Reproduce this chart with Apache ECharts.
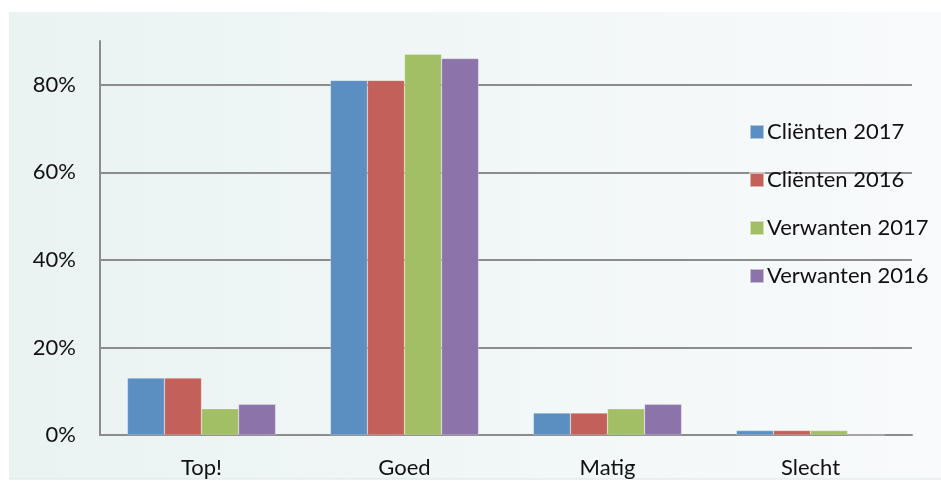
<!DOCTYPE html>
<html>
<head>
<meta charset="utf-8">
<script src="https://cdn.jsdelivr.net/npm/echarts@6/dist/echarts.min.js"></script>
<style>
  html, body { margin: 0; padding: 0; background: #ffffff; }
  #chart { width: 941px; height: 490px; }
</style>
</head>
<body>
<div id="chart"></div>
<script>
// Survey ratings per group, share of respondents (%)
const categories = ['Top!', 'Goed', 'Matig', 'Slecht'];
const seriesNames = ['Cliënten 2017', 'Cliënten 2016', 'Verwanten 2017', 'Verwanten 2016'];
const clienten2017 = [13, 81, 5, 1];
const clienten2016 = [13, 81, 5, 1];
const verwanten2017 = [6, 87, 6, 1];
const verwanten2016 = [7, 86, 7, 0];
const yTicks = [0, 20, 40, 60, 80];

const seriesValues = [clienten2017, clienten2016, verwanten2017, verwanten2016];
const colors = ['#5b8fc2', '#c3605a', '#a2bf66', '#8c74ab'];
const FONT = 'Lato, "Open Sans", sans-serif';

const chart = echarts.init(document.getElementById('chart'));

chart.setOption({
  animation: false,
  graphic: [
    {
      type: 'rect',
      z: -10,
      shape: { x: 9, y: 12, width: 932, height: 467 },
      style: {
        fill: new echarts.graphic.LinearGradient(0, 0, 1, 0, [
          { offset: 0, color: '#eaf3f2' },
          { offset: 1, color: '#f8fafb' }
        ])
      }
    },
    {
      type: 'line',
      z: -9,
      shape: { x1: 9, y1: 479, x2: 941, y2: 479 },
      style: { stroke: '#dde4e4', lineWidth: 1 }
    }
  ],
  grid: { left: 100, right: 29, top: 41, bottom: 55, containLabel: false },
  legend: {
    orient: 'vertical',
    left: 749,
    top: 121,
    padding: 0,
    itemWidth: 14,
    itemHeight: 14,
    itemGap: 26,
    icon: 'rect',
    data: seriesNames,
    textStyle: { fontFamily: FONT, fontSize: 22, color: '#111', padding: [0, 0, 0, -2] }
  },
  xAxis: {
    type: 'category',
    data: categories,
    axisLine: { show: true, lineStyle: { color: '#8c8c8c', width: 2 } },
    axisTick: { show: false },
    axisLabel: { fontFamily: FONT, fontSize: 22, color: '#111', margin: 22 }
  },
  yAxis: {
    type: 'value',
    min: 0,
    max: 90,
    interval: 20,
    axisLine: { show: true, lineStyle: { color: '#8c8c8c', width: 2 } },
    axisTick: { show: false },
    splitLine: { show: true, showMaxLine: false, lineStyle: { color: '#8c8c8c', width: 2 } },
    axisLabel: {
      showMaxLabel: false,
      fontFamily: FONT,
      fontSize: 22,
      color: '#111',
      margin: 24,
      formatter: v => (yTicks.indexOf(v) >= 0 ? v + '%' : '')
    }
  },
  series: seriesNames.map((name, i) => ({
    name,
    type: 'bar',
    data: seriesValues[i],
    barGap: '0%',
    barCategoryGap: '27%',
    itemStyle: { color: colors[i], borderColor: 'rgba(255,255,255,0.5)', borderWidth: 0.5 }
  }))
});
</script>
</body>
</html>
